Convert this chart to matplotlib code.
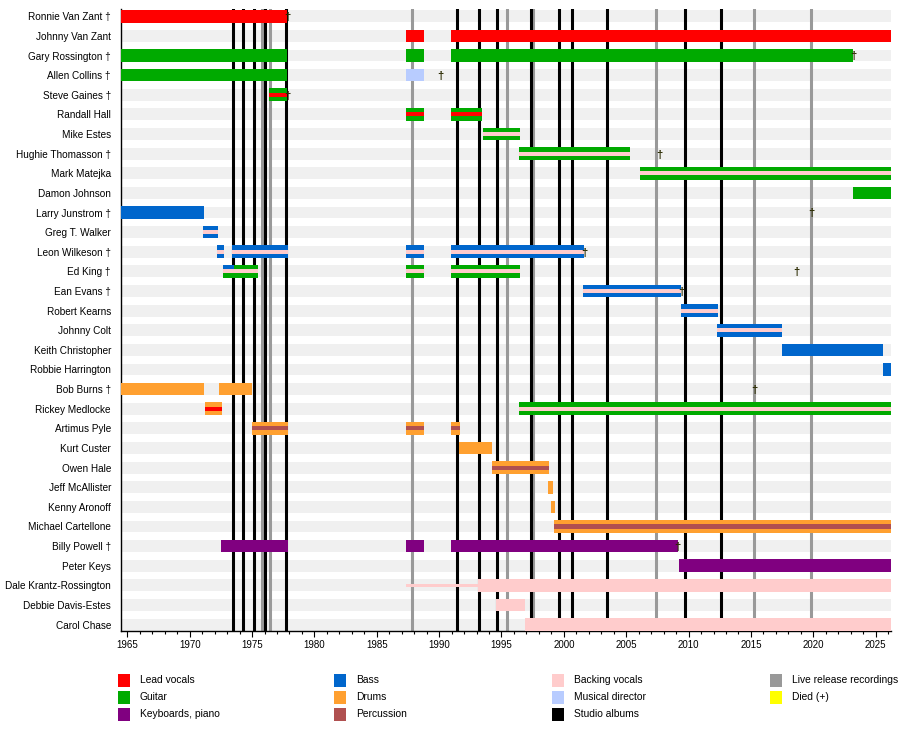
import matplotlib
matplotlib.use('Agg')
import matplotlib.pyplot as plt
from matplotlib.patches import Rectangle
from matplotlib.ticker import MultipleLocator

plt.rcParams['font.family'] = ['Liberation Sans', 'DejaVu Sans']

START = 1964.47
END = 2026.23

members = ['Ronnie Van Zant †', 'Johnny Van Zant', 'Gary Rossington †', 'Allen Collins †',
           'Steve Gaines †', 'Randall Hall', 'Mike Estes', 'Hughie Thomasson †',
           'Mark Matejka', 'Damon Johnson', 'Larry Junstrom †', 'Greg T. Walker',
           'Leon Wilkeson †', 'Ed King †', 'Ean Evans †', 'Robert Kearns', 'Johnny Colt',
           'Keith Christopher', 'Robbie Harrington', 'Bob Burns †', 'Rickey Medlocke',
           'Artimus Pyle', 'Kurt Custer', 'Owen Hale', 'Jeff McAllister', 'Kenny Aronoff',
           'Michael Cartellone', 'Billy Powell †', 'Peter Keys', 'Dale Krantz-Rossington',
           'Debbie Davis-Estes', 'Carol Chase']

role_colors = {'vocals': '#ff0000', 'guitar': '#00aa00', 'keys': '#800080',
               'bass': '#0066cc', 'drums': '#ffa030', 'percussion': '#b05050',
               'backing': '#ffcccc', 'director': '#b8ccff'}

# one entry per bar: member row, start, end, main role, centre stripe, top third
bar_member = [0,
              1, 1,
              2, 2, 2,
              3, 3,
              4,
              5, 5,
              6, 7, 8, 9,
              10, 11,
              12, 12, 12, 12,
              13, 13, 13, 13,
              14, 15, 16, 17, 18,
              19, 19,
              20, 20,
              21, 21, 21,
              22, 23, 24, 25, 26,
              27, 27, 27, 28,
              29, 29, 30, 31]
bar_start = [START,
             1987.35, 1990.96,
             START, 1987.35, 1990.96,
             START, 1987.35,
             1976.36,
             1987.35, 1990.96,
             1993.52, 1996.41, 2006.1, 2023.2,
             START, 1971.07,
             1972.2, 1973.4, 1987.35, 1990.96,
             1972.67, 1973.55, 1987.35, 1990.96,
             2001.55, 2009.4, 2012.3, 2017.5, 2025.6,
             START, 1972.35,
             1971.24, 1996.41,
             1975.0, 1987.35, 1990.96,
             1991.62, 1994.25, 1998.74, 1999.0, 1999.2,
             1972.5, 1987.35, 1990.96, 2009.24,
             1987.35, 1993.1, 1994.57, 1996.87]
bar_end = [1977.83,
           1988.8, END,
           1977.83, 1988.8, 2023.22,
           1977.83, 1988.8,
           1977.83,
           1988.8, 1993.42,
           1996.5, 2005.3, END, END,
           1971.15, 1972.27,
           1972.75, 1977.86, 1988.8, 2001.65,
           1973.55, 1975.46, 1988.8, 1996.5,
           2009.4, 2012.36, 2017.5, 2025.6, END,
           1971.15, 1975.0,
           1972.6, END,
           1977.9, 1988.8, 1991.68,
           1994.25, 1998.82, 1999.14, 1999.3, END,
           1977.9, 1988.8, 2009.16, END,
           1993.1, END, 1996.87, END]
bar_main = ['vocals',
            'vocals', 'vocals',
            'guitar', 'guitar', 'guitar',
            'guitar', 'director',
            'guitar',
            'guitar', 'guitar',
            'guitar', 'guitar', 'guitar', 'guitar',
            'bass', 'bass',
            'bass', 'bass', 'bass', 'bass',
            'guitar', 'guitar', 'guitar', 'guitar',
            'bass', 'bass', 'bass', 'bass', 'bass',
            'drums', 'drums',
            'drums', 'guitar',
            'drums', 'drums', 'drums',
            'drums', 'drums', 'drums', 'drums', 'drums',
            'keys', 'keys', 'keys', 'keys',
            None, 'backing', 'backing', 'backing']
bar_stripe = [None,
              None, None,
              None, None, None,
              None, None,
              'vocals',
              'vocals', 'vocals',
              'backing', 'backing', 'backing', None,
              None, 'backing',
              'backing', 'backing', 'backing', 'backing',
              'backing', 'backing', 'backing', 'backing',
              'backing', 'backing', 'backing', None, None,
              None, None,
              'vocals', 'backing',
              'percussion', 'percussion', 'percussion',
              None, 'percussion', None, None, 'percussion',
              None, None, None, None,
              'backing', None, None, None]
bar_top = [None] * len(bar_member)
bar_top[21] = 'bass'

studio_albums = [1973.48, 1974.27, 1975.16, 1976.07, 1977.73, 1991.46, 1993.18, 1994.62,
                 1997.35, 1999.64, 2000.69, 2003.44, 2009.75, 2012.63]
live_releases = [1975.83, 1976.45, 1987.83, 1995.42, 1997.5, 2007.42, 2015.28, 2019.83]

died_member = [0, 2, 3, 4, 7, 10, 12, 13, 14, 19, 27]
died_year = [1977.8, 2023.22, 1990.07, 1977.8, 2007.66, 2019.83, 2001.65, 2018.68,
             2009.4, 2015.28, 2009.1]

legend_labels = ['Lead vocals', 'Guitar', 'Keyboards, piano',
                 'Bass', 'Drums', 'Percussion',
                 'Backing vocals', 'Musical director', 'Studio albums',
                 'Live release recordings', 'Died (+)']
legend_colors = ['#ff0000', '#00aa00', '#800080',
                 '#0066cc', '#ffa030', '#b05050',
                 '#ffcccc', '#b8ccff', '#000000',
                 '#999999', '#ffff00']

W, H = 900, 730
fig = plt.figure(figsize=(W / 100, H / 100), dpi=100)
ax = fig.add_axes([120.7 / W, 1 - 630.5 / H, (891 - 120.7) / W, (630.5 - 9) / H])

rows = list(range(len(members)))
bh = 0.64

# background bands
ax.barh(rows, END - START, left=START, height=0.6, color='#f0f0f0', zorder=1)

for x in live_releases:
    ax.axvline(x, color='#999999', lw=2.2, zorder=2)
for x in studio_albums:
    ax.axvline(x, color='black', lw=2.2, zorder=2)

for m, s, e, main, stripe, top in zip(bar_member, bar_start, bar_end, bar_main, bar_stripe, bar_top):
    if main is None:
        ax.barh(m, e - s, left=s, height=0.15, color=role_colors[stripe], zorder=3)
        continue
    ax.barh(m, e - s, left=s, height=bh, color=role_colors[main], zorder=3)
    if top is not None:
        ax.barh(m - bh / 3, e - s, left=s, height=bh / 3, color=role_colors[top], zorder=3)
    if stripe is not None:
        ax.barh(m, e - s, left=s, height=bh / 3, color=role_colors[stripe], zorder=4)

for m, y in zip(died_member, died_year):
    ax.text(y, m + 0.05, '†', ha='center', va='center', fontsize=8, fontweight='bold',
            color='#2a2a00', zorder=5)

ax.set_xlim(START, END)
ax.set_ylim(31.3, -0.37)
ax.set_yticks(rows)
ax.set_yticklabels(members, fontsize=7.2)
ax.tick_params(axis='y', length=0, pad=7)
ax.xaxis.set_major_locator(MultipleLocator(5))
ax.xaxis.set_minor_locator(MultipleLocator(1))
ax.tick_params(axis='x', which='major', length=4, width=0.8, labelsize=7, pad=3)
ax.tick_params(axis='x', which='minor', length=2.5, width=0.8)
for side in ['top', 'right']:
    ax.spines[side].set_visible(False)
for side in ['left', 'bottom']:
    ax.spines[side].set_linewidth(1.0)

# legend, column-major, 3 rows
col_x = [118, 334, 552, 770]
row_y = [680, 697, 714]
for i, (lab, col) in enumerate(zip(legend_labels, legend_colors)):
    cx = col_x[i // 3]
    cy = row_y[i % 3]
    fig.add_artist(Rectangle((cx / W, 1 - (cy + 6.5) / H), 12 / W, 13 / H,
                             facecolor=col, edgecolor='none', transform=fig.transFigure))
    fig.text((cx + 22) / W, 1 - cy / H, lab, fontsize=7.4, va='center', ha='left')

fig.savefig('out.png', dpi=100)
